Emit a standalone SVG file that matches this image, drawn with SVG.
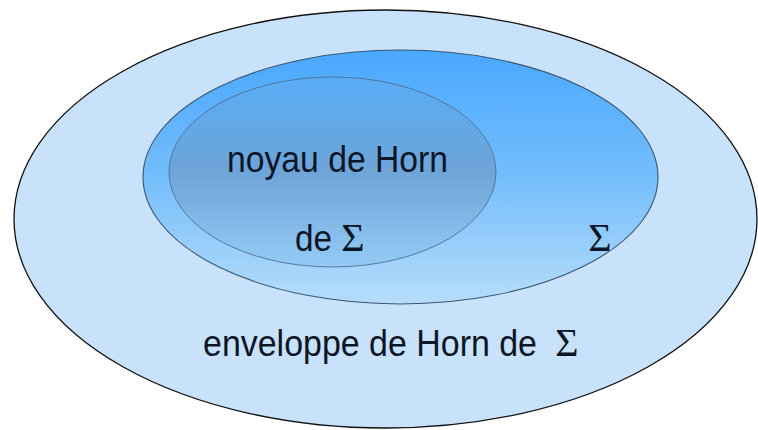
<svg xmlns="http://www.w3.org/2000/svg" width="758" height="430" viewBox="0 0 758 430">
<style>
.lbl{font-family:"Liberation Sans",Arial,sans-serif;font-size:36px;fill:#0c1626}
.sig{font-family:"Liberation Serif","Times New Roman",serif;font-size:40px;fill:#0c1626}
</style>
<defs>
<linearGradient id="gMid" x1="0" y1="0" x2="0" y2="1">
<stop offset="0" stop-color="#4aa8ff"/>
<stop offset="0.5" stop-color="#74bdfb"/>
<stop offset="1" stop-color="#b6ddfa"/>
</linearGradient>
<linearGradient id="gIn" x1="0" y1="0" x2="0" y2="1">
<stop offset="0" stop-color="#58acf6"/>
<stop offset="0.5" stop-color="#6ea4d8"/>
<stop offset="1" stop-color="#93cbf5"/>
</linearGradient>
</defs>
<rect width="758" height="430" fill="#ffffff"/>
<g id="enveloppe">
<ellipse cx="385.5" cy="219" rx="371.5" ry="209" fill="#c7e2fa" stroke="#111" stroke-width="1.3"/>
<text class="lbl" x="203" y="356" textLength="334" lengthAdjust="spacingAndGlyphs">enveloppe de Horn de</text>
<text class="sig" x="567" y="356" text-anchor="middle">Σ</text>
</g>
<g id="sigma">
<ellipse cx="400.5" cy="177" rx="257.5" ry="127" fill="url(#gMid)" stroke="#3a5570" stroke-width="1.1"/>
<text class="sig" x="600" y="251" text-anchor="middle">Σ</text>
</g>
<g id="noyau">
<ellipse cx="332.5" cy="172" rx="163.5" ry="95" fill="url(#gIn)" stroke="#4c6f92" stroke-width="0.9"/>
<text class="lbl" x="227" y="172" textLength="221" lengthAdjust="spacingAndGlyphs">noyau de Horn</text>
<text class="lbl" x="295" y="251" textLength="37" lengthAdjust="spacingAndGlyphs">de</text>
<text class="sig" x="353" y="251" text-anchor="middle">Σ</text>
</g>
<g id="connectors"/>
</svg>
